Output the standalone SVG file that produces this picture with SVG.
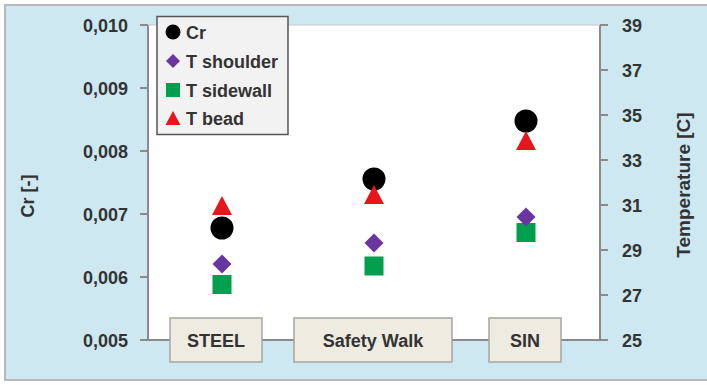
<svg xmlns="http://www.w3.org/2000/svg" width="707" height="385" viewBox="0 0 707 385">
<style>
  text{font-family:"Liberation Sans",Arial,sans-serif;font-weight:bold;fill:#333;}
  .yl{font-size:18px;text-anchor:end;}
  .yr{font-size:18px;text-anchor:start;}
  .cat{font-size:18px;text-anchor:middle;}
  .leg{font-size:18px;}
  .ax{stroke:#8a8a8a;stroke-width:2;fill:none;}
  .box{fill:#eeebe0;stroke:#a5a5a0;stroke-width:1.5;}
  .cr{fill:#000;}
  .sh{fill:#6a35a0;}
  .sw{fill:#00a04e;}
  .bd{fill:#e8161b;}
</style>
<defs>
  <circle id="mc" r="11.5" class="cr"/>
  <polygon id="md" points="0,-9.5 9.5,0 0,9.5 -9.5,0" class="sh"/>
  <rect id="ms" x="-9.5" y="-9.5" width="19" height="19" class="sw"/>
  <polygon id="mt" points="0,-10 10,9 -10,9" class="bd"/>
</defs>
<rect x="0" y="0" width="707" height="385" fill="#fff"/>
<rect x="5" y="5" width="706" height="375" fill="#cde8f0" stroke="#b8b8b8" stroke-width="2"/>
<rect x="148" y="25" width="452" height="315" fill="#fff"/>

<g id="axes">
  <line class="ax" x1="148" y1="25" x2="148" y2="341"/>
  <line class="ax" x1="600" y1="25" x2="600" y2="341"/>
  <line class="ax" x1="140" y1="340" x2="608" y2="340"/>
  <line x1="148" y1="25" x2="600" y2="25" stroke="#c8c8c8" stroke-width="1"/>
  <g class="ax">
    <line x1="140" y1="25" x2="148" y2="25"/>
    <line x1="140" y1="88" x2="148" y2="88"/>
    <line x1="140" y1="151" x2="148" y2="151"/>
    <line x1="140" y1="214" x2="148" y2="214"/>
    <line x1="140" y1="277" x2="148" y2="277"/>
    <line x1="600" y1="25" x2="608" y2="25"/>
    <line x1="600" y1="70" x2="608" y2="70"/>
    <line x1="600" y1="115" x2="608" y2="115"/>
    <line x1="600" y1="160" x2="608" y2="160"/>
    <line x1="600" y1="205" x2="608" y2="205"/>
    <line x1="600" y1="250" x2="608" y2="250"/>
    <line x1="600" y1="295" x2="608" y2="295"/>
  </g>
</g>

<g id="left-axis-labels">
  <text class="yl" x="128" y="31.5">0,010</text>
  <text class="yl" x="128" y="94.5">0,009</text>
  <text class="yl" x="128" y="157.5">0,008</text>
  <text class="yl" x="128" y="220.5">0,007</text>
  <text class="yl" x="128" y="283.5">0,006</text>
  <text class="yl" x="128" y="346.5">0,005</text>
</g>
<g id="right-axis-labels">
  <text class="yr" x="622" y="31.5">39</text>
  <text class="yr" x="622" y="76.5">37</text>
  <text class="yr" x="622" y="121.5">35</text>
  <text class="yr" x="622" y="166.5">33</text>
  <text class="yr" x="622" y="211.5">31</text>
  <text class="yr" x="622" y="256.5">29</text>
  <text class="yr" x="622" y="301.5">27</text>
  <text class="yr" x="622" y="346.5">25</text>
</g>
<text id="y-title-left" x="0" y="0" font-size="18" text-anchor="middle" transform="translate(34,196) rotate(-90)">Cr [-]</text>
<text id="y-title-right" x="0" y="0" font-size="19" text-anchor="middle" transform="translate(690,185) rotate(-90)">Temperature [C]</text>

<g id="cat-steel">
  <rect class="box" x="170" y="318" width="92" height="44"/>
  <text class="cat" x="216" y="347">STEEL</text>
</g>
<g id="cat-safety-walk">
  <rect class="box" x="294" y="318" width="158" height="44"/>
  <text class="cat" x="373" y="347">Safety Walk</text>
</g>
<g id="cat-sin">
  <rect class="box" x="489" y="318" width="72" height="44"/>
  <text class="cat" x="525" y="347">SIN</text>
</g>

<g id="series-t-sidewall">
  <use href="#ms" x="222" y="284.5"/>
  <use href="#ms" x="374" y="266"/>
  <use href="#ms" x="526" y="232.5"/>
</g>
<g id="series-t-shoulder">
  <use href="#md" x="222" y="264"/>
  <use href="#md" x="374" y="243"/>
  <use href="#md" x="526" y="217"/>
</g>
<g id="series-cr">
  <use href="#mc" x="222" y="228"/>
  <use href="#mc" x="374" y="179"/>
  <use href="#mc" x="526" y="121"/>
</g>
<g id="series-t-bead">
  <use href="#mt" x="222" y="206"/>
  <use href="#mt" x="374" y="195"/>
  <use href="#mt" x="526" y="141"/>
</g>

<g id="legend">
  <rect x="157" y="16.5" width="131" height="118" fill="#f2f2f2" stroke="#555" stroke-width="1.5"/>
  <circle cx="173" cy="32" r="7.5" class="cr"/>
  <polygon points="173,54 180,61 173,68 166,61" class="sh"/>
  <rect x="166" y="83" width="14" height="14" class="sw"/>
  <polygon points="173,111 180.5,125 165.5,125" class="bd"/>
  <text class="leg" x="186" y="38.5">Cr</text>
  <text class="leg" x="186" y="67.5">T shoulder</text>
  <text class="leg" x="186" y="96.5">T sidewall</text>
  <text class="leg" x="186" y="124.5">T bead</text>
</g>
</svg>
